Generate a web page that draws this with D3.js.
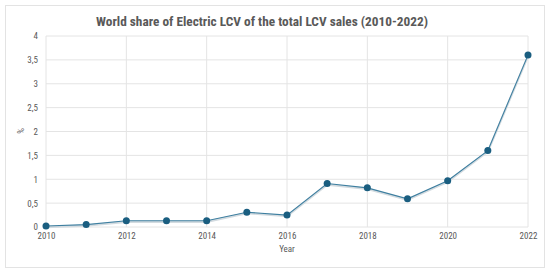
<!DOCTYPE html>
<html><head><meta charset="utf-8">
<script src="https://cdn.jsdelivr.net/npm/d3@7"></script>
<style>body{margin:0;background:#fff}svg{display:block}</style>
</head><body>
<svg id="c" width="550" height="275"></svg>
<script>
const years = [2010,2011,2012,2013,2014,2015,2016,2017,2018,2019,2020,2021,2022];
const shares = [0.02,0.05,0.13,0.13,0.13,0.31,0.25,0.91,0.82,0.59,0.97,1.6,3.6];
const xTicks = [2010,2012,2014,2016,2018,2020,2022];
const yTicks = [0,0.5,1,1.5,2,2.5,3,3.5,4];
const title = "World share of Electric LCV of the total LCV sales (2010-2022)";

const svg = d3.select("#c");
const font = "'Liberation Sans Narrow','Roboto Condensed',Arial,sans-serif";
svg.append("rect").attr("x",5.5).attr("y",5.5).attr("width",539).attr("height",262)
  .attr("fill","#fff").attr("stroke","#e3e3e3");

const x = d3.scaleLinear().domain([2010,2022]).range([46,528]);
const y = d3.scaleLinear().domain([0,4]).range([227,36]);

const g = svg.append("g");
g.selectAll("line.h").data(yTicks).join("line")
  .attr("x1",46).attr("x2",528).attr("y1",d=>y(d)).attr("y2",d=>y(d))
  .attr("stroke","#e4e4e4").attr("stroke-width",1);
g.selectAll("line.v").data(xTicks).join("line")
  .attr("y1",36).attr("y2",227).attr("x1",d=>x(d)).attr("x2",d=>x(d))
  .attr("stroke","#e4e4e4").attr("stroke-width",1);

const yAxis = svg.append("g").attr("transform","translate(46,0)")
  .call(d3.axisLeft(y).tickValues(yTicks).tickSize(0).tickPadding(8)
    .tickFormat(d=>String(d).replace(".",",")));
yAxis.select(".domain").remove();
yAxis.selectAll("text").attr("fill","#595959").style("font-family",font).style("font-size","9px");

const xAxis = svg.append("g").attr("transform","translate(0,227)")
  .call(d3.axisBottom(x).tickValues(xTicks).tickSize(0).tickPadding(6).tickFormat(d3.format("d")));
xAxis.select(".domain").remove();
xAxis.selectAll("text").attr("fill","#595959").style("font-family",font).style("font-size","9px");

const line = d3.line().x((d,i)=>x(years[i])).y(d=>y(d));
svg.append("path").datum(shares).attr("d",line).attr("fill","none")
  .attr("stroke","#d3dbe0").attr("stroke-width",2.2).attr("transform","translate(0,1)");
svg.append("path").datum(shares).attr("d",line).attr("fill","none")
  .attr("stroke","#3e7fa0").attr("stroke-width",1.1);
svg.selectAll("circle.m").data(shares).join("circle")
  .attr("cx",(d,i)=>x(years[i])).attr("cy",d=>y(d)).attr("r",3.5)
  .attr("fill","#1a5e80");

svg.append("text").attr("x",262).attr("y",26).attr("text-anchor","middle")
  .attr("fill","#595959").style("font-family",font).style("font-size","13.3px").style("font-weight","bold")
  .text(title);
svg.append("text").attr("x",287).attr("y",252).attr("text-anchor","middle")
  .attr("fill","#595959").style("font-family",font).style("font-size","9px").text("Year");
svg.append("text").attr("transform","translate(24,131) rotate(-90)").attr("text-anchor","middle")
  .attr("fill","#595959").style("font-family",font).style("font-size","9px").text("%");
</script>
</body></html>
